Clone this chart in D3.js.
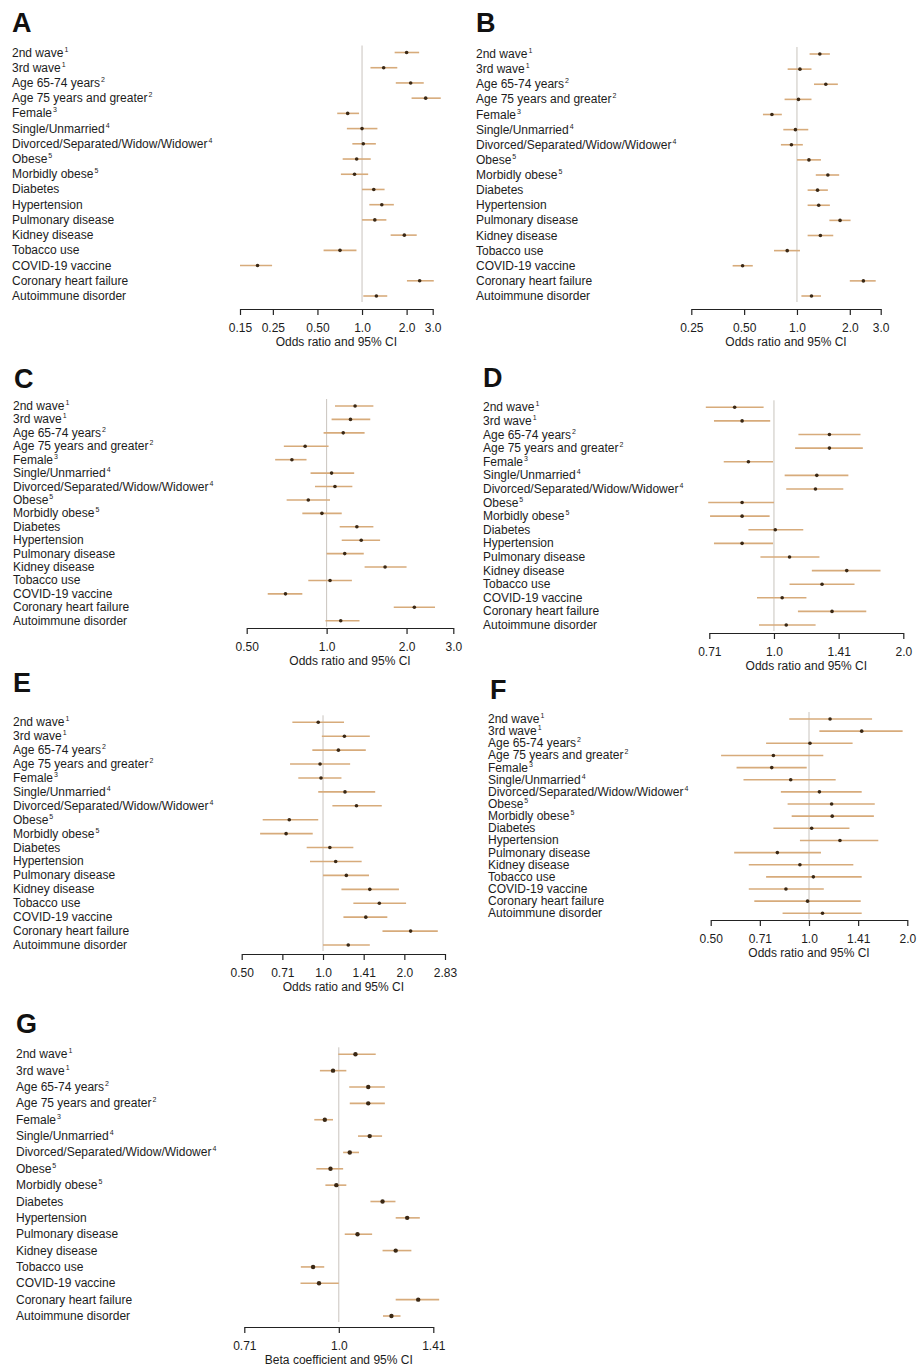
<!DOCTYPE html>
<html>
<head>
<meta charset="utf-8">
<script src="https://cdn.jsdelivr.net/npm/d3@7"></script>
<style>
  html, body { margin: 0; padding: 0; background: #ffffff; }
  svg { display: block; }
  text { font-family: "Liberation Sans", Arial, Helvetica, sans-serif; }
</style>
</head>
<body>
<svg id="chart" width="923" height="1369"></svg>
<script>
// ---------------- DATA ----------------
const categories = [
  "2nd wave", "3rd wave", "Age 65-74 years", "Age 75 years and greater", "Female",
  "Single/Unmarried", "Divorced/Separated/Widow/Widower", "Obese", "Morbidly obese",
  "Diabetes", "Hypertension", "Pulmonary disease", "Kidney disease", "Tobacco use",
  "COVID-19 vaccine", "Coronary heart failure", "Autoimmune disorder"
];
const superscripts = ["1", "1", "2", "2", "3", "4", "4", "5", "5", "", "", "", "", "", "", "", ""];

// Panel A
const aEst = [2.00, 1.40, 2.13, 2.69, 0.80, 1.00, 1.02, 0.92, 0.89, 1.20, 1.36, 1.22, 1.93, 0.71, 0.197, 2.45, 1.25];
const aLo  = [1.66, 1.14, 1.69, 2.16, 0.68, 0.79, 0.86, 0.74, 0.72, 1.00, 1.12, 1.00, 1.56, 0.55, 0.150, 2.01, 1.02];
const aHi  = [2.43, 1.73, 2.61, 3.40, 0.955, 1.27, 1.24, 1.145, 1.10, 1.42, 1.64, 1.46, 2.34, 0.917, 0.247, 3.05, 1.48];
const aTicks = [0.15, 0.25, 0.5, 1, 2, 3];
const aTickLabels = ["0.15", "0.25", "0.50", "1.0", "2.0", "3.0"];

// Panel B
const bEst = [1.35, 1.04, 1.46, 1.02, 0.72, 0.98, 0.93, 1.17, 1.50, 1.31, 1.33, 1.76, 1.36, 0.88, 0.49, 2.39, 1.21];
const bLo  = [1.18, 0.885, 1.25, 0.85, 0.64, 0.836, 0.81, 1.00, 1.28, 1.15, 1.15, 1.53, 1.15, 0.74, 0.43, 2.00, 1.06];
const bHi  = [1.54, 1.21, 1.71, 1.21, 0.82, 1.16, 1.08, 1.37, 1.74, 1.50, 1.54, 2.02, 1.61, 1.04, 0.56, 2.81, 1.37];
const bTicks = [0.25, 0.5, 1, 2, 3];
const bTickLabels = ["0.25", "0.50", "1.0", "2.0", "3.0"];

// Panel C
const cEst = [1.28, 1.23, 1.155, 0.83, 0.74, 1.044, 1.075, 0.853, 0.96, 1.30, 1.35, 1.17, 1.66, 1.03, 0.70, 2.14, 1.13];
const cLo  = [1.075, 1.044, 0.974, 0.69, 0.64, 0.87, 0.904, 0.707, 0.81, 1.12, 1.14, 1.00, 1.39, 0.853, 0.60, 1.79, 0.99];
const cHi  = [1.50, 1.46, 1.39, 1.017, 0.84, 1.27, 1.25, 1.03, 1.14, 1.50, 1.59, 1.38, 2.00, 1.245, 0.81, 2.56, 1.33];
const cTicks = [0.5, 1, 2, 3];
const cTickLabels = ["0.50", "1.0", "2.0", "3.0"];

// Panel D
const dEst = [0.81, 0.843, 1.346, 1.346, 0.872, 1.258, 1.249, 0.843, 0.843, 1.007, 0.843, 1.087, 1.477, 1.294, 1.045, 1.365, 1.068];
const dLo  = [0.694, 0.725, 1.14, 1.12, 0.764, 1.059, 1.068, 0.703, 0.71, 0.872, 0.725, 0.93, 1.225, 1.087, 0.913, 1.137, 0.923];
const dHi  = [0.946, 0.98, 1.59, 1.61, 0.995, 1.49, 1.45, 1.00, 0.977, 1.17, 0.995, 1.276, 1.77, 1.54, 1.19, 1.64, 1.25];
const dTicks = [0.7071, 1, 1.4142, 2];
const dTickLabels = ["0.71", "1.0", "1.41", "2.0"];

// Panel E
const eEst = [0.96, 1.20, 1.14, 0.975, 0.983, 1.206, 1.33, 0.75, 0.73, 1.06, 1.114, 1.22, 1.49, 1.616, 1.44, 2.11, 1.24];
const eLo  = [0.77, 0.99, 0.913, 0.755, 0.81, 0.96, 1.083, 0.598, 0.585, 0.87, 0.895, 1.00, 1.17, 1.295, 1.19, 1.66, 1.00];
const eHi  = [1.196, 1.49, 1.44, 1.26, 1.17, 1.56, 1.65, 0.96, 0.916, 1.295, 1.39, 1.48, 1.91, 2.03, 1.73, 2.66, 1.49];
const eTicks = [0.5, 0.7071, 1, 1.4142, 2, 2.8284];
const eTickLabels = ["0.50", "0.71", "1.0", "1.41", "2.0", "2.83"];

// Panel F
const fEst = [1.16, 1.45, 1.007, 0.778, 0.769, 0.879, 1.076, 1.173, 1.178, 1.019, 1.244, 0.80, 0.938, 1.031, 0.85, 0.99, 1.10];
const fLo  = [0.87, 1.076, 0.739, 0.538, 0.60, 0.63, 0.82, 0.86, 0.885, 0.778, 0.938, 0.59, 0.654, 0.739, 0.654, 0.68, 0.83];
const fHi  = [1.56, 1.935, 1.36, 1.106, 0.984, 1.207, 1.45, 1.59, 1.58, 1.33, 1.63, 1.088, 1.367, 1.45, 1.11, 1.44, 1.45];
const fTicks = [0.5, 0.7071, 1, 1.4142, 2];
const fTickLabels = ["0.50", "0.71", "1.0", "1.41", "2.0"];

// Panel G
const gEst = [1.063, 0.979, 1.114, 1.114, 0.95, 1.12, 1.041, 0.97, 0.991, 1.174, 1.285, 1.071, 1.232, 0.91, 0.93, 1.338, 1.213];
const gLo  = [0.998, 0.933, 1.039, 1.041, 0.914, 1.073, 1.016, 0.921, 0.952, 1.123, 1.232, 1.022, 1.174, 0.87, 0.869, 1.232, 1.176];
const gHi  = [1.145, 1.028, 1.184, 1.184, 0.979, 1.172, 1.077, 1.016, 1.028, 1.231, 1.346, 1.13, 1.305, 0.948, 1.00, 1.445, 1.254];
const gTicks = [0.7071, 1, 1.4142];
const gTickLabels = ["0.71", "1.0", "1.41"];

const oddsTitle = "Odds ratio and 95% CI";
const betaTitle = "Beta coefficient and 95% CI";

// ---------------- LAYOUT ----------------
const panels = [
  { letter: "A", lx: 12, ly: 32, labelX: 12, rowTop: 52.5, rowBot: 296, x0: 240, x1: 432.7, axisY: 309,
    est: aEst, lo: aLo, hi: aHi, ticks: aTicks, tickLabels: aTickLabels, title: oddsTitle },
  { letter: "B", lx: 476, ly: 32, labelX: 476, rowTop: 54, rowBot: 296, x0: 691.3, x1: 880.7, axisY: 309,
    est: bEst, lo: bLo, hi: bHi, ticks: bTicks, tickLabels: bTickLabels, title: oddsTitle },
  { letter: "C", lx: 14, ly: 388, labelX: 13, rowTop: 406, rowBot: 620.7, x0: 246.7, x1: 453.3, axisY: 628,
    est: cEst, lo: cLo, hi: cHi, ticks: cTicks, tickLabels: cTickLabels, title: oddsTitle },
  { letter: "D", lx: 483, ly: 387, labelX: 483, rowTop: 407.3, rowBot: 625, x0: 709.3, x1: 903.3, axisY: 633,
    est: dEst, lo: dLo, hi: dHi, ticks: dTicks, tickLabels: dTickLabels, title: oddsTitle },
  { letter: "E", lx: 13, ly: 692, labelX: 13, rowTop: 722.3, rowBot: 945, x0: 241.7, x1: 445, axisY: 954,
    est: eEst, lo: eLo, hi: eHi, ticks: eTicks, tickLabels: eTickLabels, title: oddsTitle },
  { letter: "F", lx: 490, ly: 699, labelX: 488, rowTop: 719, rowBot: 913.3, x0: 710.7, x1: 907.3, axisY: 920,
    est: fEst, lo: fLo, hi: fHi, ticks: fTicks, tickLabels: fTickLabels, title: oddsTitle },
  { letter: "G", lx: 16, ly: 1033, labelX: 16, rowTop: 1054.3, rowBot: 1316, x0: 244.3, x1: 433.3, axisY: 1327,
    est: gEst, lo: gLo, hi: gHi, ticks: gTicks, tickLabels: gTickLabels, title: betaTitle }
];

const svg = d3.select("#chart");
const TEXT = "#1c1c1c";
const CI_COLOR = "#d7ab7b";
const DOT_COLOR = "#3a2815";
const REF_COLOR = "#c9c4be";

panels.forEach(p => {
  const g = svg.append("g");
  const x = d3.scaleLog().domain([p.ticks[0], p.ticks[p.ticks.length - 1]]).range([p.x0, p.x1]);
  const y = d3.scalePoint().domain(categories).range([p.rowTop, p.rowBot]);

  // panel letter
  g.append("text").attr("x", p.lx).attr("y", p.ly)
    .attr("font-size", 27).attr("font-weight", "bold").attr("fill", "#111")
    .text(p.letter);

  // row labels
  const lab = g.selectAll("text.lab").data(categories).join("text")
    .attr("class", "lab")
    .attr("x", p.labelX)
    .attr("y", d => y(d) + 4)
    .attr("font-size", 12)
    .attr("fill", TEXT);
  lab.append("tspan").text(d => d);
  lab.append("tspan")
    .attr("font-size", 7)
    .attr("dy", -5)
    .attr("dx", 1)
    .text((d, i) => superscripts[i]);

  // reference line at 1.0
  g.append("line")
    .attr("x1", x(1)).attr("x2", x(1))
    .attr("y1", p.rowTop - 7).attr("y2", p.rowBot + 6)
    .attr("stroke", REF_COLOR).attr("stroke-width", 1);

  // CI lines
  g.selectAll("line.ci").data(categories).join("line")
    .attr("class", "ci")
    .attr("x1", (d, i) => x(p.lo[i]))
    .attr("x2", (d, i) => x(p.hi[i]))
    .attr("y1", d => y(d)).attr("y2", d => y(d))
    .attr("stroke", CI_COLOR).attr("stroke-width", 1.6);

  // point estimates
  g.selectAll("circle.pt").data(categories).join("circle")
    .attr("class", "pt")
    .attr("cx", (d, i) => x(p.est[i]))
    .attr("cy", d => y(d))
    .attr("r", p.letter === "G" ? 2.2 : 1.8)
    .attr("fill", DOT_COLOR);

  // axis
  const axis = d3.axisBottom(x)
    .tickValues(p.ticks)
    .tickFormat((d, i) => p.tickLabels[i])
    .tickSize(6).tickSizeOuter(0).tickPadding(8);
  const ag = g.append("g").attr("transform", `translate(0,${p.axisY})`).call(axis);
  ag.select(".domain").attr("stroke", "#222").attr("stroke-width", 1.2);
  ag.selectAll(".tick line").attr("stroke", "#222").attr("stroke-width", 1.2);
  ag.selectAll(".tick text").attr("font-size", 12).attr("fill", TEXT)
    .attr("font-family", "'Liberation Sans', Arial, sans-serif");

  // axis title
  g.append("text")
    .attr("x", (p.x0 + p.x1) / 2)
    .attr("y", p.axisY + 37)
    .attr("text-anchor", "middle")
    .attr("font-size", 12)
    .attr("fill", TEXT)
    .text(p.title);
});
</script>
</body>
</html>
